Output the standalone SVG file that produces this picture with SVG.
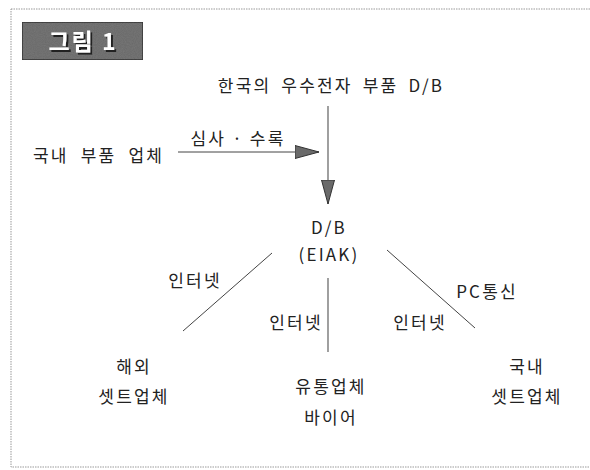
<svg xmlns="http://www.w3.org/2000/svg" width="590" height="470" viewBox="0 0 590 470">
<defs>
<style>
.t{font-family:"Noto Sans CJK KR","Liberation Sans",sans-serif;font-size:17px;fill:#222;letter-spacing:2.2px;}
.c{text-anchor:middle;}
.ln{stroke:#444;stroke-width:1;fill:none;}
.lg{stroke:#777;stroke-width:1.4;fill:none;}
</style>
<marker id="ah" viewBox="0 0 24 14" refX="24" refY="7" markerWidth="24" markerHeight="14" markerUnits="userSpaceOnUse" orient="auto">
<path d="M0,0.5 L24,7 L0,13.5 Z" fill="#6a6a6a" stroke="#333" stroke-width="1"/>
</marker>
<filter id="noise" x="0" y="0" width="100%" height="100%">
<feTurbulence type="fractalNoise" baseFrequency="0.9" numOctaves="2" result="n"/>
<feColorMatrix type="saturate" values="0" in="n" result="g"/>
<feComponentTransfer in="g" result="g2"><feFuncA type="linear" slope="0" intercept="0.35"/></feComponentTransfer>
<feComposite in="g2" in2="SourceGraphic" operator="in" result="m"/>
<feBlend in="m" in2="SourceGraphic" mode="multiply"/>
</filter>
<filter id="sh" x="-10%" y="-20%" width="130%" height="150%">
<feDropShadow dx="2" dy="2" stdDeviation="0.3" flood-color="#222"/>
</filter>
</defs>
<rect x="0" y="0" width="590" height="470" fill="#fff"/>
<rect x="11" y="9" width="600" height="458" fill="none" stroke="#999" stroke-width="1" stroke-dasharray="1.5,1"/>

<g id="title">
<rect x="22" y="22" width="121" height="38" fill="#7a7a7a" stroke="#3a3a3a" stroke-width="1.5" filter="url(#noise)"/>
<text x="83" y="50" text-anchor="middle" filter="url(#sh)" style="font-family:'Noto Sans CJK KR',sans-serif;font-size:23px;font-weight:bold;fill:#fff;letter-spacing:2px;">그림 1</text>
</g>

<g id="connectors">
<line class="ln" x1="178" y1="152" x2="319" y2="152" marker-end="url(#ah)"/>
<text class="t" x="238" y="145" text-anchor="middle">심사 · 수록</text>
<line class="lg" x1="328" y1="106" x2="328" y2="204" marker-end="url(#ah)"/>
<line class="ln" x1="272" y1="253" x2="183" y2="331"/>
<line class="lg" x1="328" y1="278" x2="328" y2="352"/>
<line class="ln" x1="387" y1="250" x2="475" y2="328"/>
<text class="t" x="195" y="287" text-anchor="middle">인터넷</text>
<text class="t" x="296" y="329" text-anchor="middle">인터넷</text>
<text class="t" x="420" y="329" text-anchor="middle">인터넷</text>
<text class="t" x="487" y="298" text-anchor="middle">PC통신</text>
</g>

<g id="source-db">
<text class="t c" x="331" y="92" word-spacing="4">한국의 우수전자 부품 D/B</text>
</g>
<g id="domestic-parts">
<text class="t" x="33" y="162" word-spacing="6">국내 부품 업체</text>
</g>
<g id="eiak">
<text class="t c" x="329" y="234">D/B</text>
<text class="t c" x="329" y="261">(EIAK)</text>
</g>
<g id="overseas">
<text class="t c" x="134" y="373">해외</text>
<text class="t c" x="134" y="403">셋트업체</text>
</g>
<g id="distributor">
<text class="t c" x="331" y="393">유통업체</text>
<text class="t c" x="331" y="424">바이어</text>
</g>
<g id="domestic-set">
<text class="t c" x="527" y="373">국내</text>
<text class="t c" x="527" y="403">셋트업체</text>
</g>
</svg>
